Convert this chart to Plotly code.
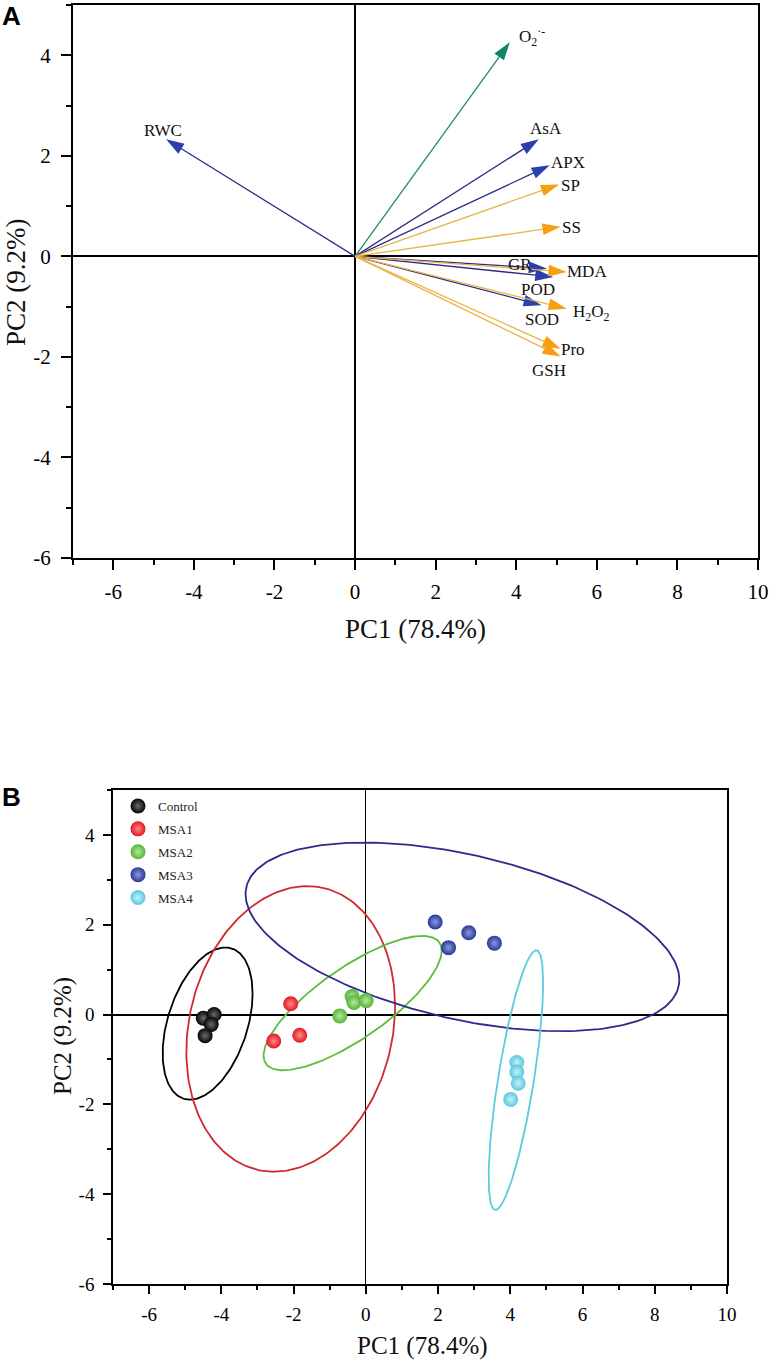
import numpy as np
import plotly.graph_objects as go

# ---- panel A: loadings (PC1, PC2) ----
variables = ["O2", "RWC", "AsA", "APX", "SP", "SS", "GR", "MDA", "POD", "H2O2", "SOD", "Pro", "GSH"]
labels = ["O<sub>2</sub><sup>·-</sup>", "RWC", "AsA", "APX", "SP", "SS", "GR", "MDA", "POD",
          "H<sub>2</sub>O<sub>2</sub>", "SOD", "Pro", "GSH"]
load_pc1 = [3.84, -4.69, 4.56, 4.83, 5.06, 5.10, 4.76, 5.25, 4.92, 5.25, 4.63, 5.10, 5.10]
load_pc2 = [4.26, 2.33, 2.33, 1.81, 1.43, 0.59, -0.24, -0.31, -0.41, -1.04, -0.97, -1.84, -1.99]
var_group = ["g", "b", "b", "b", "o", "o", "b", "o", "b", "o", "b", "o", "o"]

# ---- panel B: scores ----
groups = ["Control", "MSA1", "MSA2", "MSA3", "MSA4"]
score_pc1 = {
    "Control": [-4.50, -4.20, -4.28, -4.45],
    "MSA1": [-2.08, -2.55, -1.83],
    "MSA2": [-0.38, -0.33, 0.01, -0.72],
    "MSA3": [1.92, 2.29, 2.85, 3.56],
    "MSA4": [4.18, 4.18, 4.22, 4.01],
}
score_pc2 = {
    "Control": [-0.08, 0.00, -0.22, -0.47],
    "MSA1": [0.24, -0.59, -0.46],
    "MSA2": [0.40, 0.27, 0.31, -0.03],
    "MSA3": [2.06, 1.49, 1.82, 1.59],
    "MSA4": [-1.07, -1.28, -1.53, -1.89],
}
# confidence ellipses: centre and shape matrix [sxx, syy, sxy]
ell_center = {
    "Control": (-4.38, -0.20),
    "MSA1": (-2.08, -0.32),
    "MSA2": (-0.365, 0.255),
    "MSA3": (2.675, 1.73),
    "MSA4": (4.155, -1.46),
}
ell_shape = {
    "Control": (1.55, 2.87, 0.83),
    "MSA1": (8.35, 10.11, 1.46),
    "MSA2": (6.08, 2.24, 2.88),
    "MSA3": (36.06, 4.41, -5.72),
    "MSA4": (0.57, 8.35, 1.63),
}

x_ticks = [-6, -4, -2, 0, 2, 4, 6, 8, 10]
x_tick_text = ["-6", "-4", "-2", "0", "2", "4", "6", "8", "10"]
y_ticks = [-6, -4, -2, 0, 2, 4]
y_tick_text = ["-6", "-4", "-2", "0", "2", "4"]

# styles
line_col = {"g": "#1d8c6c", "b": "#2e2b84", "o": "#e9b445"}
head_col = {"g": "#0f8566", "b": "#2c3fae", "o": "#f79e12"}
label_shift = {"O2": (22, 6), "RWC": (-3, 9), "AsA": (7, 11), "APX": (18, 3), "SP": (12, -1),
               "SS": (11, -1), "GR": (-27, 4), "MDA": (20, 0), "POD": (-15, -13),
               "H2O2": (25, -4), "SOD": (0, -14), "Pro": (12, -1), "GSH": (-12, -14)}
pt_col = {"Control": "#050505", "MSA1": "#e3171f", "MSA2": "#55b534", "MSA3": "#283896", "MSA4": "#5cc8de"}
pt_hi = {"Control": "#6a6a6a", "MSA1": "#ff8a8a", "MSA2": "#b4e89c", "MSA3": "#8c98dc", "MSA4": "#c4f1f8"}
ell_col = {"Control": "#000000", "MSA1": "#cc2a30", "MSA2": "#5cbd3c", "MSA3": "#2b2a8e", "MSA4": "#5ccadf"}

W, H = 772, 1367


def px(x):
    return x / W


def py(y):
    return 1 - y / H


serif = "Liberation Serif"
fig = go.Figure()

# draw blue first, then orange on top
order = sorted(range(len(variables)), key=lambda i: {"b": 0, "g": 1, "o": 2}[var_group[i]])
for i in order:
    g = var_group[i]
    fig.add_trace(go.Scatter(
        x=[0, load_pc1[i]], y=[0, load_pc2[i]], mode="lines+markers",
        line=dict(color=line_col[g], width=1.3),
        marker=dict(symbol="arrow", angleref="previous", size=[0, 19], color=head_col[g],
                    opacity=1, line=dict(width=0)),
        xaxis="x", yaxis="y", showlegend=False, hoverinfo="skip"))

annotations = []
for i, v in enumerate(variables):
    dx, dy = label_shift[v]
    annotations.append(dict(x=load_pc1[i], y=load_pc2[i], xref="x", yref="y", text=labels[i],
                            showarrow=False, xshift=dx, yshift=dy,
                            xanchor="center", yanchor="middle",
                            font=dict(family=serif, size=17, color="#111111")))

# panel B
for gname in groups:
    cx, cy = ell_center[gname]
    sxx, syy, sxy = ell_shape[gname]
    L = np.linalg.cholesky(np.array([[sxx, sxy], [sxy, syy]]))
    t = np.linspace(0, 2 * np.pi, 241)
    pts = L @ np.vstack([np.cos(t), np.sin(t)])
    fig.add_trace(go.Scatter(x=cx + pts[0], y=cy + pts[1], mode="lines",
                             line=dict(color=ell_col[gname], width=1.8),
                             xaxis="x2", yaxis="y2", showlegend=False, hoverinfo="skip"))

for gname in groups:
    fig.add_trace(go.Scatter(
        x=score_pc1[gname], y=score_pc2[gname], mode="markers", name=gname,
        legendgroup=gname,
        marker=dict(size=15, color=pt_col[gname], line=dict(width=0),
                    gradient=dict(type="radial", color=pt_hi[gname])),
        xaxis="x2", yaxis="y2"))


def axis(domain, tfs, tlen, lw, zw, anchor, vals, text):
    return dict(domain=domain, anchor=anchor, automargin=False, showgrid=False, showline=True,
                mirror=True, linecolor="black", linewidth=lw, ticks="outside", ticklen=tlen,
                tickwidth=lw, tickcolor="black", tickmode="array", tickvals=vals, ticktext=text,
                minor=dict(ticks="outside", ticklen=tlen // 2, tickwidth=lw, dtick=1, tick0=1,
                           tickcolor="black", showgrid=False),
                zeroline=True, zerolinecolor="black", zerolinewidth=zw,
                tickfont=dict(family=serif, size=tfs, color="black"), fixedrange=True)


xa = axis([px(73), px(758)], 21, 10, 2, 2, "y", x_ticks, x_tick_text)
xa.update(range=[-7, 10], ticklabelstandoff=4)
ya = axis([py(558), py(5)], 21, 10, 2, 2, "x", y_ticks, y_tick_text)
ya.update(range=[-6, 5], ticklabelstandoff=6)
xb = axis([px(113), px(727)], 19, 8, 1.6, 1.1, "y2", x_ticks, x_tick_text)
xb.update(range=[-7, 10], ticklabelstandoff=4)
yb = axis([py(1284), py(790)], 19, 8, 1.6, 2.4, "x2", y_ticks, y_tick_text)
yb.update(range=[-6, 5], ticklabelstandoff=5)

title_font_a = dict(family=serif, size=27, color="#111111")
title_font_b = dict(family=serif, size=25, color="#111111")
letter_font = dict(family="Liberation Sans", size=26, color="black")
paper_txt = [
    ("PC1 (78.4%)", 415, 629, 0, title_font_a),
    ("PC2 (9.2%)", 16, 282, -90, title_font_a),
    ("PC1 (78.4%)", 423, 1346, 0, title_font_b),
    ("PC2 (9.2%)", 63, 1036, -90, title_font_b),
    ("<b>A</b>", 11, 16, 0, letter_font),
    ("<b>B</b>", 11, 797, 0, letter_font),
]
for txt, x, y, ang, f in paper_txt:
    annotations.append(dict(text=txt, x=px(x), y=py(y), xref="paper", yref="paper",
                            xanchor="center", yanchor="middle", showarrow=False,
                            textangle=ang, font=f))

fig.update_layout(
    template="none",
    width=W, height=H, margin=dict(l=0, r=0, t=0, b=0, autoexpand=False),
    font=dict(family=serif, color="black"),
    paper_bgcolor="white", plot_bgcolor="white",
    xaxis=xa, yaxis=ya, xaxis2=xb, yaxis2=yb,
    annotations=annotations,
    legend=dict(x=px(118), y=py(791), xanchor="left", yanchor="top",
                bgcolor="rgba(0,0,0,0)", traceorder="grouped", tracegroupgap=3,
                font=dict(family=serif, size=13, color="#222222")),
)

# the page body keeps a default 8px margin; drop it so the figure sits at the corner
fig.write_html("out.html", config={"displayModeBar": False},
               post_script="document.body.style.margin='0px';")
